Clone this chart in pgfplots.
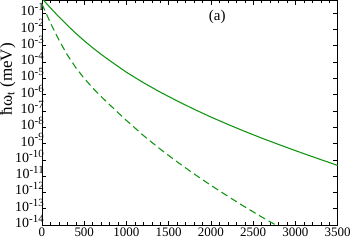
\documentclass[border=0pt]{standalone}
\usepackage{fontspec}
\setmainfont{Liberation Serif}
\usepackage{pgfplots}
\pgfplotsset{compat=1.18}
\definecolor{curvegreen}{RGB}{20,150,20}
\begin{document}
\begin{tikzpicture}[x=1bp,y=1bp]
\begin{axis}[
    scale only axis,
    width=295bp, height=224bp,
    xmin=0, xmax=3500,
    ymin=1e-14, ymax=0.6,
    ymode=log, log basis y=10,
    xtick={0,500,...,3500},
    minor x tick num=4,
    ytick={1e-14,1e-13,1e-12,1e-11,1e-10,1e-9,1e-8,1e-7,1e-6,1e-5,1e-4,1e-3,1e-2,1e-1},
    /pgf/number format/assume math mode=true,
    /pgf/number format/1000 sep={},
    log number format basis/.code 2 args={#1\raisebox{0.8ex}{\fontsize{11}{11}\selectfont\pgfmathprintnumber{#2}}},
    yticklabel style={font=\fontsize{14}{14}\selectfont, xshift=3bp, yshift=3.5bp, inner xsep=1bp},
    xticklabel style={font=\fontsize{13}{13}\selectfont, yshift=0.5bp},
    ylabel={ħω\textsubscript{t} (meV)},
    every axis y label/.style={at={(axis description cs:-0.116,0.649)}, rotate=90, anchor=center, inner sep=0pt, font=\fontsize{17}{17}\selectfont},
    axis line style={line width=0.6pt},
    every tick/.style={black, line width=0.5pt},
]
\addplot[curvegreen, line width=1.1pt] coordinates {
    (0,0.794) (100,0.209) (200,5.89e-2) (300,1.78e-2) (400,5.75e-3)
    (500,2.00e-3) (600,7.41e-4) (700,2.95e-4) (800,1.23e-4) (1000,2.34e-5)
    (1200,5.37e-6) (1400,1.41e-6) (1600,4.07e-7) (1800,1.26e-7) (2000,4.17e-8)
    (2200,1.48e-8) (2400,5.50e-9) (2600,2.14e-9) (2800,8.71e-10) (3000,3.63e-10)
    (3200,1.55e-10) (3500,4.47e-11)
};
\addplot[curvegreen, line width=1.1pt, dash pattern=on 7bp off 4bp] coordinates {
    (0,0.355) (100,2.51e-2) (200,2.24e-3) (300,2.69e-4) (400,4.47e-5)
    (500,9.77e-6) (600,2.57e-6) (700,7.59e-7) (800,2.40e-7) (900,7.76e-8)
    (1000,2.57e-8) (1200,3.09e-9) (1400,4.47e-10) (1600,7.41e-11) (1800,1.35e-11)
    (2000,2.69e-12) (2200,5.75e-13) (2400,1.29e-13) (2600,3.09e-14) (2800,7.94e-15)
};
\node[font=\fontsize{15}{15}\selectfont] at (axis cs:2075,0.06) {(a)};
\end{axis}
\end{tikzpicture}
\end{document}
